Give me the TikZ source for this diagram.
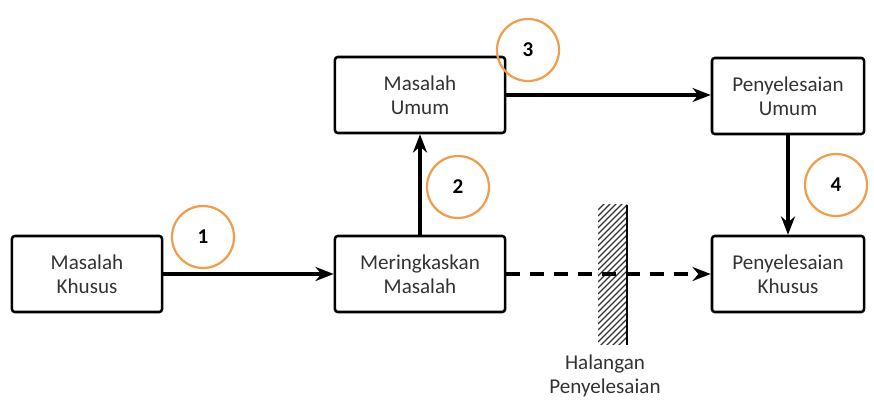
\documentclass[tikz,border=0pt]{standalone}
\usepackage{fontspec}
\setmainfont{Carlito}
\usetikzlibrary{arrows.meta}
\definecolor{stepring}{RGB}{238,158,78}
\tikzset{
	box/.style={draw, line width=1.8pt, rounded corners=2pt, align=center, minimum height=1.9cm, text=black!80, font=\fontsize{15}{17}\selectfont},
	flow/.style={line width=2.8pt, -{Stealth[length=13pt,width=10pt]}},
	stepmark/.style={draw=stepring, line width=1.6pt, circle, minimum size=1.55cm, font=\bfseries\fontsize{15}{17}\selectfont}
}

\begin{document}
\begin{tikzpicture}[x=0.025cm, y=-0.025cm]
			%%%%% START %%%%%
			\useasboundingbox (0, 0) rectangle (874, 405);
			
			\node[box, minimum width=3.75cm] (khusus) at (87, 274) {Masalah\\Khusus};
			\node[box, minimum width=4.25cm] (ringkas) at (420, 274) {Meringkaskan\\Masalah};
			\node[box, minimum width=4.25cm] (umum) at (420, 95) {Masalah\\Umum};
			\node[box, minimum width=3.8cm] (selumum) at (788, 96) {Penyelesaian\\Umum};
			\node[box, minimum width=3.8cm] (selkhusus) at (788, 274) {Penyelesaian\\Khusus};
			
			% hatched wall
			\begin{scope}
				\clip (598, 205) rectangle (627, 345);
				\foreach \k in {0,...,26}
					\draw[line width=0.9pt, black!80] (598, 210+6*\k) -- (628, 180+6*\k);
			\end{scope}
			\draw[line width=1.8pt] (627, 205) -- (627, 345);
			\node[align=center, text=black!80, font=\fontsize{15}{17}\selectfont] (halang) at (605, 376) {Halangan\\Penyelesaian};
			
			\draw[flow] (khusus) -- (ringkas);
			\draw[flow] (ringkas) -- (umum);
			\draw[flow] (umum.east) -- (selumum.west |- umum.east);
			\draw[flow] (selumum) -- (selkhusus);
			\draw[flow, dash pattern=on 10pt off 7pt] (ringkas) -- (selkhusus);
			
			\node[stepmark] (n1) at (203, 237) {1};
			\node[stepmark] (n2) at (458, 187) {2};
			\node[stepmark] (n3) at (528, 50) {3};
			\node[stepmark] (n4) at (836, 185) {4};
			
			%%%%% END %%%%%
\end{tikzpicture}
\end{document}
